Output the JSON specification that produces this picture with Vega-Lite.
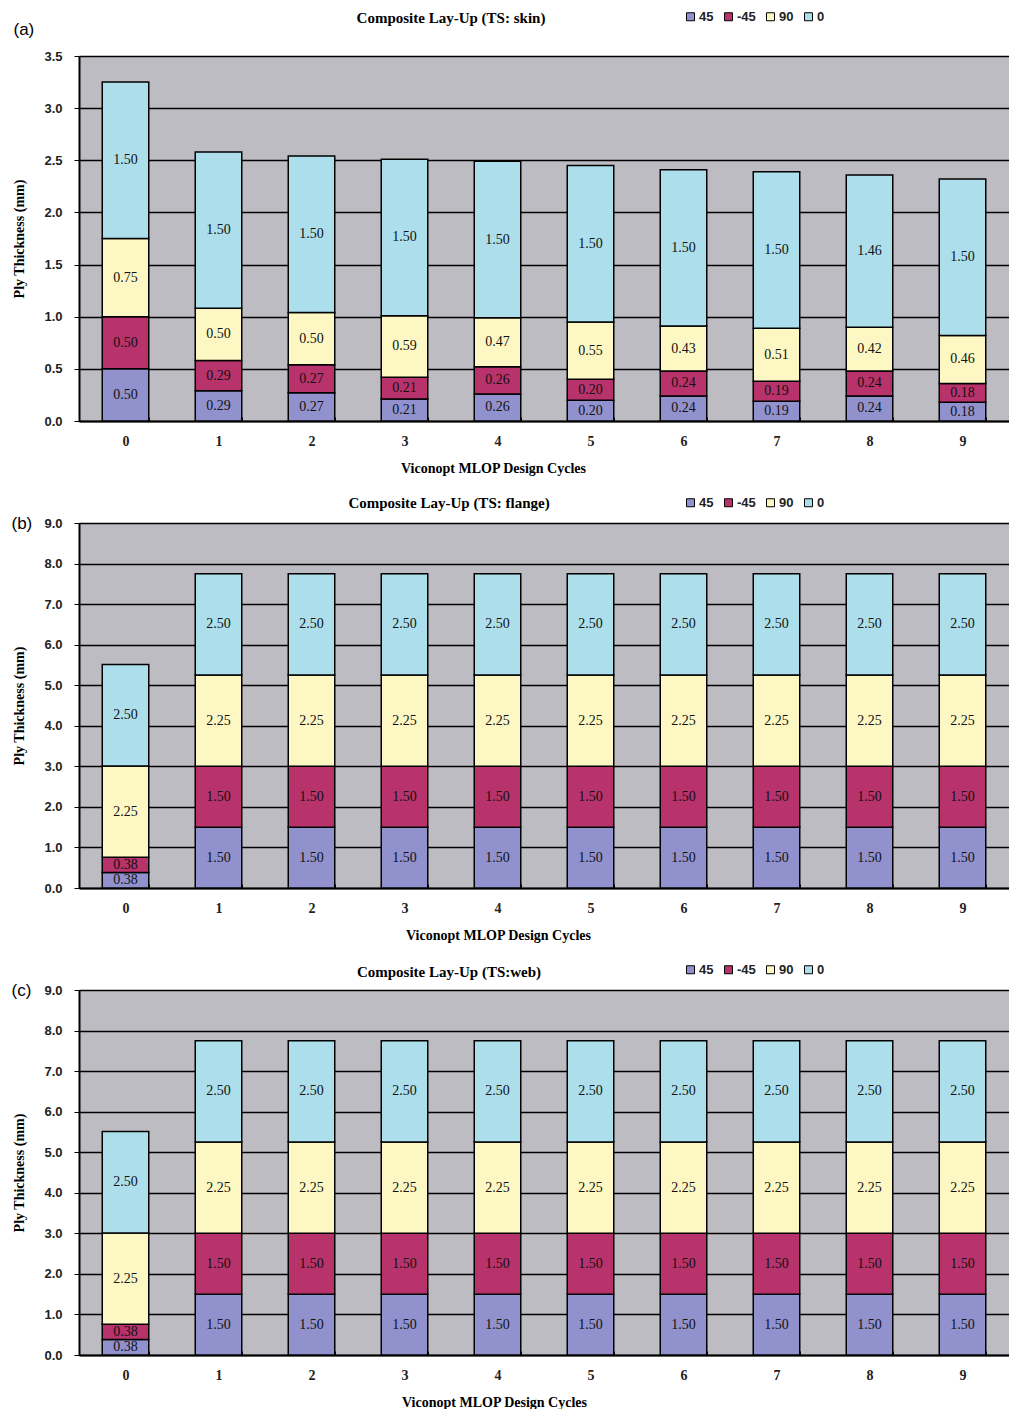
{
  "$schema": "https://vega.github.io/schema/vega-lite/v6.json",
  "background": "white",
  "padding": {"left": 11, "top": 10, "right": 0, "bottom": 0},
  "datasets": {
    "skin": [
      {"cycle": 0, "ply": "45", "t": 0.50}, {"cycle": 0, "ply": "-45", "t": 0.50}, {"cycle": 0, "ply": "90", "t": 0.75}, {"cycle": 0, "ply": "0", "t": 1.50},
      {"cycle": 1, "ply": "45", "t": 0.29}, {"cycle": 1, "ply": "-45", "t": 0.29}, {"cycle": 1, "ply": "90", "t": 0.50}, {"cycle": 1, "ply": "0", "t": 1.50},
      {"cycle": 2, "ply": "45", "t": 0.27}, {"cycle": 2, "ply": "-45", "t": 0.27}, {"cycle": 2, "ply": "90", "t": 0.50}, {"cycle": 2, "ply": "0", "t": 1.50},
      {"cycle": 3, "ply": "45", "t": 0.21}, {"cycle": 3, "ply": "-45", "t": 0.21}, {"cycle": 3, "ply": "90", "t": 0.59}, {"cycle": 3, "ply": "0", "t": 1.50},
      {"cycle": 4, "ply": "45", "t": 0.26}, {"cycle": 4, "ply": "-45", "t": 0.26}, {"cycle": 4, "ply": "90", "t": 0.47}, {"cycle": 4, "ply": "0", "t": 1.50},
      {"cycle": 5, "ply": "45", "t": 0.20}, {"cycle": 5, "ply": "-45", "t": 0.20}, {"cycle": 5, "ply": "90", "t": 0.55}, {"cycle": 5, "ply": "0", "t": 1.50},
      {"cycle": 6, "ply": "45", "t": 0.24}, {"cycle": 6, "ply": "-45", "t": 0.24}, {"cycle": 6, "ply": "90", "t": 0.43}, {"cycle": 6, "ply": "0", "t": 1.50},
      {"cycle": 7, "ply": "45", "t": 0.19}, {"cycle": 7, "ply": "-45", "t": 0.19}, {"cycle": 7, "ply": "90", "t": 0.51}, {"cycle": 7, "ply": "0", "t": 1.50},
      {"cycle": 8, "ply": "45", "t": 0.24}, {"cycle": 8, "ply": "-45", "t": 0.24}, {"cycle": 8, "ply": "90", "t": 0.42}, {"cycle": 8, "ply": "0", "t": 1.46},
      {"cycle": 9, "ply": "45", "t": 0.18}, {"cycle": 9, "ply": "-45", "t": 0.18}, {"cycle": 9, "ply": "90", "t": 0.46}, {"cycle": 9, "ply": "0", "t": 1.50}
    ],
    "flange": [
      {"cycle": 0, "ply": "45", "t": 0.38}, {"cycle": 0, "ply": "-45", "t": 0.38}, {"cycle": 0, "ply": "90", "t": 2.25}, {"cycle": 0, "ply": "0", "t": 2.50},
      {"cycle": 1, "ply": "45", "t": 1.50}, {"cycle": 1, "ply": "-45", "t": 1.50}, {"cycle": 1, "ply": "90", "t": 2.25}, {"cycle": 1, "ply": "0", "t": 2.50},
      {"cycle": 2, "ply": "45", "t": 1.50}, {"cycle": 2, "ply": "-45", "t": 1.50}, {"cycle": 2, "ply": "90", "t": 2.25}, {"cycle": 2, "ply": "0", "t": 2.50},
      {"cycle": 3, "ply": "45", "t": 1.50}, {"cycle": 3, "ply": "-45", "t": 1.50}, {"cycle": 3, "ply": "90", "t": 2.25}, {"cycle": 3, "ply": "0", "t": 2.50},
      {"cycle": 4, "ply": "45", "t": 1.50}, {"cycle": 4, "ply": "-45", "t": 1.50}, {"cycle": 4, "ply": "90", "t": 2.25}, {"cycle": 4, "ply": "0", "t": 2.50},
      {"cycle": 5, "ply": "45", "t": 1.50}, {"cycle": 5, "ply": "-45", "t": 1.50}, {"cycle": 5, "ply": "90", "t": 2.25}, {"cycle": 5, "ply": "0", "t": 2.50},
      {"cycle": 6, "ply": "45", "t": 1.50}, {"cycle": 6, "ply": "-45", "t": 1.50}, {"cycle": 6, "ply": "90", "t": 2.25}, {"cycle": 6, "ply": "0", "t": 2.50},
      {"cycle": 7, "ply": "45", "t": 1.50}, {"cycle": 7, "ply": "-45", "t": 1.50}, {"cycle": 7, "ply": "90", "t": 2.25}, {"cycle": 7, "ply": "0", "t": 2.50},
      {"cycle": 8, "ply": "45", "t": 1.50}, {"cycle": 8, "ply": "-45", "t": 1.50}, {"cycle": 8, "ply": "90", "t": 2.25}, {"cycle": 8, "ply": "0", "t": 2.50},
      {"cycle": 9, "ply": "45", "t": 1.50}, {"cycle": 9, "ply": "-45", "t": 1.50}, {"cycle": 9, "ply": "90", "t": 2.25}, {"cycle": 9, "ply": "0", "t": 2.50}
    ],
    "web": [
      {"cycle": 0, "ply": "45", "t": 0.38}, {"cycle": 0, "ply": "-45", "t": 0.38}, {"cycle": 0, "ply": "90", "t": 2.25}, {"cycle": 0, "ply": "0", "t": 2.50},
      {"cycle": 1, "ply": "45", "t": 1.50}, {"cycle": 1, "ply": "-45", "t": 1.50}, {"cycle": 1, "ply": "90", "t": 2.25}, {"cycle": 1, "ply": "0", "t": 2.50},
      {"cycle": 2, "ply": "45", "t": 1.50}, {"cycle": 2, "ply": "-45", "t": 1.50}, {"cycle": 2, "ply": "90", "t": 2.25}, {"cycle": 2, "ply": "0", "t": 2.50},
      {"cycle": 3, "ply": "45", "t": 1.50}, {"cycle": 3, "ply": "-45", "t": 1.50}, {"cycle": 3, "ply": "90", "t": 2.25}, {"cycle": 3, "ply": "0", "t": 2.50},
      {"cycle": 4, "ply": "45", "t": 1.50}, {"cycle": 4, "ply": "-45", "t": 1.50}, {"cycle": 4, "ply": "90", "t": 2.25}, {"cycle": 4, "ply": "0", "t": 2.50},
      {"cycle": 5, "ply": "45", "t": 1.50}, {"cycle": 5, "ply": "-45", "t": 1.50}, {"cycle": 5, "ply": "90", "t": 2.25}, {"cycle": 5, "ply": "0", "t": 2.50},
      {"cycle": 6, "ply": "45", "t": 1.50}, {"cycle": 6, "ply": "-45", "t": 1.50}, {"cycle": 6, "ply": "90", "t": 2.25}, {"cycle": 6, "ply": "0", "t": 2.50},
      {"cycle": 7, "ply": "45", "t": 1.50}, {"cycle": 7, "ply": "-45", "t": 1.50}, {"cycle": 7, "ply": "90", "t": 2.25}, {"cycle": 7, "ply": "0", "t": 2.50},
      {"cycle": 8, "ply": "45", "t": 1.50}, {"cycle": 8, "ply": "-45", "t": 1.50}, {"cycle": 8, "ply": "90", "t": 2.25}, {"cycle": 8, "ply": "0", "t": 2.50},
      {"cycle": 9, "ply": "45", "t": 1.50}, {"cycle": 9, "ply": "-45", "t": 1.50}, {"cycle": 9, "ply": "90", "t": 2.25}, {"cycle": 9, "ply": "0", "t": 2.50}
    ]
  },
  "config": {
    "view": {"fill": "#bebcc3", "stroke": null},
    "font": "Liberation Serif",
    "title": {"font": "Liberation Serif", "fontSize": 15, "fontWeight": "bold", "color": "black", "anchor": "middle", "frame": "group"},
    "axis": {
      "labelFont": "Liberation Sans", "labelFontSize": 13, "labelFontWeight": "bold", "labelColor": "#222",
      "titleFont": "Liberation Serif", "titleFontSize": 14, "titleFontWeight": "bold", "titleColor": "black",
      "domainColor": "black", "domainWidth": 2, "tickColor": "black", "gridColor": "black", "gridWidth": 1.5, "gridOpacity": 1
    },
    "legend": {
      "orient": "none", "direction": "horizontal", "title": null,
      "symbolType": "square", "symbolSize": 64, "symbolStrokeColor": "black", "symbolStrokeWidth": 1,
      "labelFont": "Liberation Sans", "labelFontSize": 13, "labelFontWeight": "bold", "labelColor": "#222",
      "columnPadding": 8, "labelOffset": 2
    }
  },
  "spacing": 102,
  "bounds": "flush",
  "resolve": {"legend": {"color": "independent"}},
  "vconcat": [
    {
      "width": 930, "height": 365,
      "data": {"name": "skin"},
      "title": {"text": "Composite Lay-Up (TS: skin)", "dx": -93, "dy": 24, "offset": 8},
      "transform": [
        {"calculate": "indexof(['45','-45','90','0'], datum.ply)", "as": "ord"},
        {"stack": "t", "groupby": ["cycle"], "sort": [{"field": "ord", "order": "ascending"}], "as": ["s0", "s1"]},
        {"calculate": "(datum.s0 + datum.s1) / 2", "as": "mid"}
      ],
      "resolve": {"axis": {"x": "independent"}},
      "layer": [
        {
          "mark": {"type": "bar", "stroke": "black", "strokeWidth": 1.5},
          "encoding": {
            "x": {"field": "cycle", "type": "ordinal", "scale": {"paddingInner": 0.5, "paddingOuter": 0.25},
              "axis": {"title": "Viconopt MLOP Design Cycles", "titleX": 414, "titlePadding": 13, "labelAngle": 0, "labelFont": "Liberation Serif", "labelFontSize": 14, "labelPadding": 17, "ticks": true, "tickBand": "extent", "tickSize": -4}},
            "y": {"field": "s0", "type": "quantitative", "scale": {"domain": [0, 3.5]},
              "axis": {"title": "Ply Thickness (mm)", "values": [0, 0.5, 1, 1.5, 2, 2.5, 3, 3.5], "format": ".1f", "tickSize": 5, "labelPadding": 12, "titlePadding": 17}},
            "y2": {"field": "s1"},
            "color": {"field": "ply", "type": "nominal", "sort": ["45", "-45", "90", "0"],
              "scale": {"domain": ["45", "-45", "90", "0"], "range": ["#9191cd", "#b8336b", "#fdf8c3", "#acdfeb"]},
              "legend": {"legendX": 605, "legendY": -46}}
          }
        },
        {
          "mark": {"type": "text", "fontSize": 14, "font": "Liberation Serif", "color": "#111", "baseline": "middle"},
          "encoding": {
            "x": {"field": "cycle", "type": "ordinal",
              "axis": {"orient": "top", "labels": false, "ticks": false, "domain": false, "grid": false, "title": "(a)", "titleFont": "Liberation Sans", "titleFontSize": 17, "titleFontWeight": "normal", "titleAngle": 0, "titleAlign": "left", "titleBaseline": "middle", "titleX": -66, "titleY": -27}},
            "y": {"field": "mid", "type": "quantitative"},
            "text": {"field": "t", "type": "quantitative", "format": ".2f"}
          }
        }
      ]
    },
    {
      "width": 930, "height": 365,
      "data": {"name": "flange"},
      "title": {"text": "Composite Lay-Up (TS: flange)", "dx": -95, "dy": 23, "offset": 8},
      "transform": [
        {"calculate": "indexof(['45','-45','90','0'], datum.ply)", "as": "ord"},
        {"stack": "t", "groupby": ["cycle"], "sort": [{"field": "ord", "order": "ascending"}], "as": ["s0", "s1"]},
        {"calculate": "(datum.s0 + datum.s1) / 2", "as": "mid"}
      ],
      "resolve": {"axis": {"x": "independent"}},
      "layer": [
        {
          "mark": {"type": "bar", "stroke": "black", "strokeWidth": 1.5},
          "encoding": {
            "x": {"field": "cycle", "type": "ordinal", "scale": {"paddingInner": 0.5, "paddingOuter": 0.25},
              "axis": {"title": "Viconopt MLOP Design Cycles", "titleX": 419, "titlePadding": 13, "labelAngle": 0, "labelFont": "Liberation Serif", "labelFontSize": 14, "labelPadding": 17, "ticks": true, "tickBand": "extent", "tickSize": -4}},
            "y": {"field": "s0", "type": "quantitative", "scale": {"domain": [0, 9]},
              "axis": {"title": "Ply Thickness (mm)", "values": [0, 1, 2, 3, 4, 5, 6, 7, 8, 9], "format": ".1f", "tickSize": 5, "labelPadding": 12, "titlePadding": 17}},
            "y2": {"field": "s1"},
            "color": {"field": "ply", "type": "nominal", "sort": ["45", "-45", "90", "0"],
              "scale": {"domain": ["45", "-45", "90", "0"], "range": ["#9191cd", "#b8336b", "#fdf8c3", "#acdfeb"]},
              "legend": {"legendX": 605, "legendY": -27}}
          }
        },
        {
          "mark": {"type": "text", "fontSize": 14, "font": "Liberation Serif", "color": "#111", "baseline": "middle"},
          "encoding": {
            "x": {"field": "cycle", "type": "ordinal",
              "axis": {"orient": "top", "labels": false, "ticks": false, "domain": false, "grid": false, "title": "(b)", "titleFont": "Liberation Sans", "titleFontSize": 17, "titleFontWeight": "normal", "titleAngle": 0, "titleAlign": "left", "titleBaseline": "middle", "titleX": -68, "titleY": 0}},
            "y": {"field": "mid", "type": "quantitative"},
            "text": {"field": "t", "type": "quantitative", "format": ".2f"}
          }
        }
      ]
    },
    {
      "width": 930, "height": 365,
      "data": {"name": "web"},
      "title": {"text": "Composite Lay-Up (TS:web)", "dx": -95, "dy": 25, "offset": 8},
      "transform": [
        {"calculate": "indexof(['45','-45','90','0'], datum.ply)", "as": "ord"},
        {"stack": "t", "groupby": ["cycle"], "sort": [{"field": "ord", "order": "ascending"}], "as": ["s0", "s1"]},
        {"calculate": "(datum.s0 + datum.s1) / 2", "as": "mid"}
      ],
      "resolve": {"axis": {"x": "independent"}},
      "layer": [
        {
          "mark": {"type": "bar", "stroke": "black", "strokeWidth": 1.5},
          "encoding": {
            "x": {"field": "cycle", "type": "ordinal", "scale": {"paddingInner": 0.5, "paddingOuter": 0.25},
              "axis": {"title": "Viconopt MLOP Design Cycles", "titleX": 415, "titlePadding": 13, "labelAngle": 0, "labelFont": "Liberation Serif", "labelFontSize": 14, "labelPadding": 17, "ticks": true, "tickBand": "extent", "tickSize": -4}},
            "y": {"field": "s0", "type": "quantitative", "scale": {"domain": [0, 9]},
              "axis": {"title": "Ply Thickness (mm)", "values": [0, 1, 2, 3, 4, 5, 6, 7, 8, 9], "format": ".1f", "tickSize": 5, "labelPadding": 12, "titlePadding": 17}},
            "y2": {"field": "s1"},
            "color": {"field": "ply", "type": "nominal", "sort": ["45", "-45", "90", "0"],
              "scale": {"domain": ["45", "-45", "90", "0"], "range": ["#9191cd", "#b8336b", "#fdf8c3", "#acdfeb"]},
              "legend": {"legendX": 605, "legendY": -27}}
          }
        },
        {
          "mark": {"type": "text", "fontSize": 14, "font": "Liberation Serif", "color": "#111", "baseline": "middle"},
          "encoding": {
            "x": {"field": "cycle", "type": "ordinal",
              "axis": {"orient": "top", "labels": false, "ticks": false, "domain": false, "grid": false, "title": "(c)", "titleFont": "Liberation Sans", "titleFontSize": 17, "titleFontWeight": "normal", "titleAngle": 0, "titleAlign": "left", "titleBaseline": "middle", "titleX": -68, "titleY": 0}},
            "y": {"field": "mid", "type": "quantitative"},
            "text": {"field": "t", "type": "quantitative", "format": ".2f"}
          }
        }
      ]
    }
  ]
}
